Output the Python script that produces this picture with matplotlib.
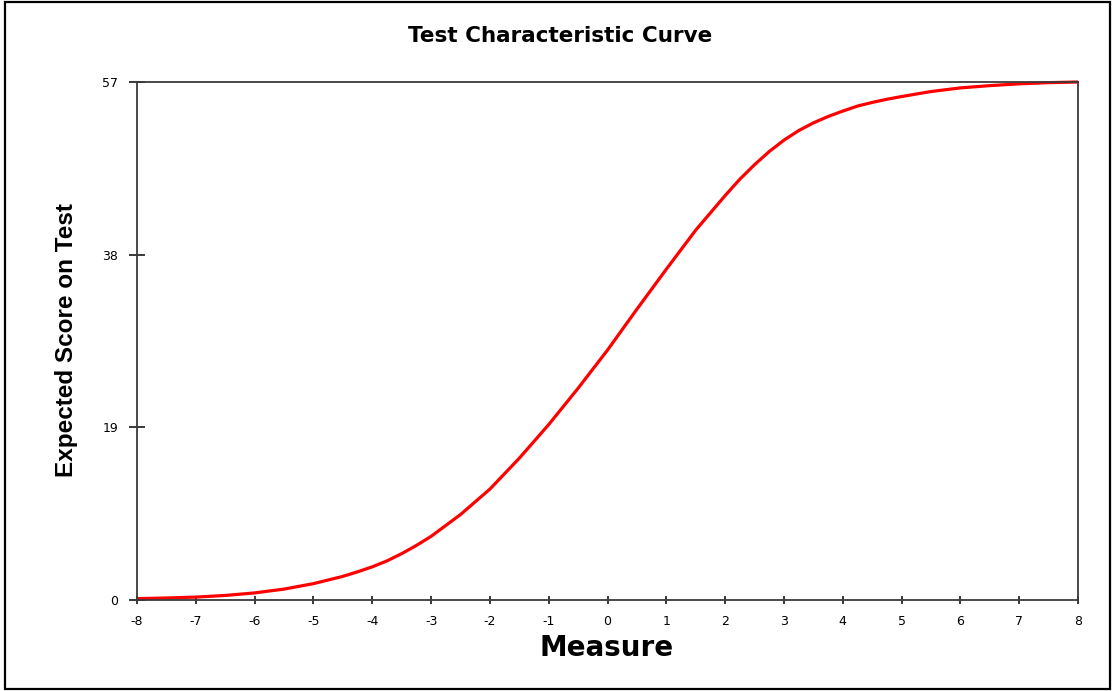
import matplotlib.pyplot as plt
from matplotlib.patches import Rectangle

# values
measure = [-8, -7.5, -7, -6.5, -6, -5.5, -5, -4.5, -4.25, -4, -3.75, -3.5,
           -3.25, -3, -2.5, -2, -1.5, -1, -0.5, 0, 0.5, 1, 1.5, 2, 2.25, 2.5,
           2.75, 3, 3.25, 3.5, 3.75, 4, 4.25, 4.5, 4.75, 5, 5.5, 6, 6.5, 7,
           7.5, 8]
expected = [0.15, 0.22, 0.32, 0.5, 0.78, 1.2, 1.8, 2.6, 3.1, 3.65, 4.3, 5.1,
            6.0, 7.0, 9.4, 12.2, 15.6, 19.3, 23.3, 27.5, 32.0, 36.4, 40.7,
            44.5, 46.3, 47.9, 49.35, 50.6, 51.65, 52.5, 53.2, 53.8, 54.35,
            54.75, 55.1, 55.4, 55.95, 56.35, 56.6, 56.8, 56.93, 57.0]
x_ticks = list(range(-8, 9))
y_ticks = [0, 19, 38, 57]

plt.rcParams['font.family'] = ['DejaVu Sans']
plt.rcParams['axes.unicode_minus'] = False

W, H = 1112, 691
fig = plt.figure(figsize=(W / 100, H / 100), dpi=100)

ax = fig.add_axes([137 / W, (H - 600) / H, (1078 - 137) / W, (600 - 82) / H])
ax.plot(measure, expected, color="red", linewidth=2.3, clip_on=False,
        solid_capstyle="butt", solid_joinstyle="round")
ax.set_xlim(-8, 8)
ax.set_ylim(0, 57)
ax.set_xticks(x_ticks)
ax.set_yticks(y_ticks)
for side in ["left", "right", "top", "bottom"]:
    ax.spines[side].set_color("#3a3a3a")
    ax.spines[side].set_linewidth(1.3)
ax.tick_params(axis="x", direction="inout", length=6, width=1.3,
               color="#2a2a2a", labelsize=9, pad=8)
ax.tick_params(axis="y", direction="inout", length=11, width=1.3,
               color="#2a2a2a", labelsize=9, pad=8)

fig.text(560 / W, 1 - 36 / H, "Test Characteristic Curve", ha="center",
         va="center", fontsize=15.5, fontweight="bold")
fig.text(607 / W, 1 - 648 / H, "Measure", ha="center", va="center",
         fontsize=20, fontweight="bold")
fig.text(67 / W, 1 - 340 / H, "Expected Score on Test", ha="center",
         va="center", rotation=90, fontsize=17.5, fontweight="bold",
         family=["Liberation Sans", "DejaVu Sans"])

# outer frame
fig.patches.append(Rectangle((5 / W, 2 / H), 1105 / W, 687 / H,
                             transform=fig.transFigure, fill=False,
                             edgecolor="black", linewidth=1.6))

fig.savefig("out.png", dpi=100)
